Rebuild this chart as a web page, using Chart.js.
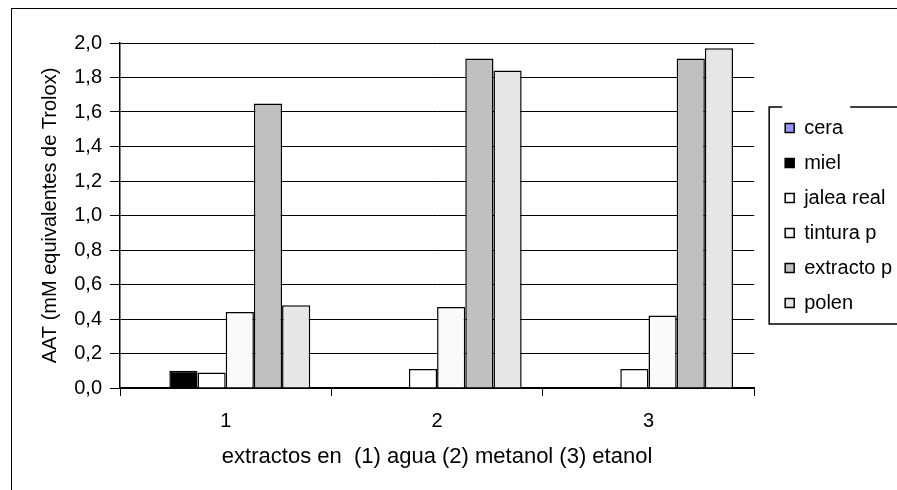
<!DOCTYPE html>
<html lang="es">
<head>
<meta charset="UTF-8">
<title>AAT</title>
<script src="https://cdn.jsdelivr.net/npm/chart.js"></script>
<style>
  body{ margin:0; overflow:hidden; background:#fff; }
  .frame{ position:absolute; left:11px; top:8px; border:1px solid #000; }
  canvas{ display:block; }
</style>
</head>
<body>
<div class="frame"><canvas id="c" width="1000" height="520"></canvas></div>
<script>
"use strict";

const categories = ["1", "2", "3"];
const cera      = [0, 0, 0];
const miel      = [0.10, 0, 0];
const jaleaReal = [0.09, 0.11, 0.11];
const tinturaP  = [0.44, 0.47, 0.42];
const extractoP = [1.65, 1.91, 1.91];
const polen     = [0.48, 1.84, 1.97];

const font = "'Liberation Sans', Arial, sans-serif";

function ds(label, data, color){
     return { label, data, backgroundColor: color, borderColor: "#000", borderWidth: 1.5 };
}

// legend frame, with the small break in its top edge
const legendFrame = {
     id: "legendFrame",
     afterLayout(chart){
          const lg = chart.legend, area = chart.chartArea;
          lg.left += 16;
          lg.right += 16;
          lg.top = area.top;
          lg.bottom = area.bottom;
          lg.height = area.bottom - area.top;
     },
     afterDraw(chart){
          const boxes = chart.legend.legendHitBoxes;
          if(!boxes || !boxes.length) return;
          const first = boxes[0], last = boxes[boxes.length-1];
          const l = first.left - 16;
          const t = first.top + first.height/2 - 21;
          const b = last.top + last.height/2 + 21;
          const r = chart.width + 10;
          const ctx = chart.ctx;
          ctx.save();
          ctx.strokeStyle = "#000";
          ctx.lineWidth = 1.5;
          ctx.beginPath();
          ctx.moveTo(l + 13, t); ctx.lineTo(l, t); ctx.lineTo(l, b); ctx.lineTo(r, b);
          ctx.moveTo(l + 81, t); ctx.lineTo(r, t);
          ctx.stroke();
          ctx.restore();
     }
};

new Chart(document.getElementById("c"), {
     type: "bar",
     data: {
          labels: categories,
          datasets: [
               ds("cera", cera, "#9999ff"),
               ds("miel", miel, "#000000"),
               ds("jalea real", jaleaReal, "#ffffff"),
               ds("tintura p", tinturaP, "#fafafa"),
               ds("extracto p", extractoP, "#c0c0c0"),
               ds("polen", polen, "#e6e6e6")
          ]
     },
     options: {
          responsive: false,
          animation: false,
          categoryPercentage: 0.8,
          barPercentage: 1.0,
          layout: { padding: { top: 34, left: 0, right: 126, bottom: 0 } },
          plugins: {
               tooltip: { enabled: false },
               legend: {
                    position: "right",
                    maxWidth: 140,
                    labels: {
                         boxWidth: 9, boxHeight: 9, padding: 15, color: "#000",
                         font: { family: font, size: 20 }
                    }
               }
          },
          scales: {
               x: {
                    grid: { offset: true, drawOnChartArea: false, drawTicks: true, tickLength: 8, color: "#000", lineWidth: 1 },
                    border: { color: "#000", width: 1.5 },
                    ticks: { color: "#000", padding: 13, font: { family: font, size: 20 } },
                    title: {
                         display: true, color: "#000",
                         text: "extractos en  (1) agua (2) metanol (3) etanol",
                         font: { family: font, size: 22 },
                         padding: { top: 0, bottom: 59 }
                    },
                    afterFit(scale){ scale.height = 141; }
               },
               y: {
                    min: 0, max: 2,
                    grid: { color: "#000", lineWidth: 1, tickLength: 10 },
                    border: { color: "#000", width: 1.5 },
                    ticks: {
                         stepSize: 0.2, padding: 8, color: "#000",
                         font: { family: font, size: 20 },
                         callback: v => v.toFixed(1).replace(".", ",")
                    },
                    title: {
                         display: true, color: "#000",
                         text: "AAT (mM equivalentes de Trolox)",
                         font: { family: font, size: 20 },
                         padding: { top: 26, bottom: 0 }
                    },
                    afterFit(scale){ scale.width = 108; }
               }
          }
     },
     plugins: [legendFrame]
});
</script>
</body>
</html>
